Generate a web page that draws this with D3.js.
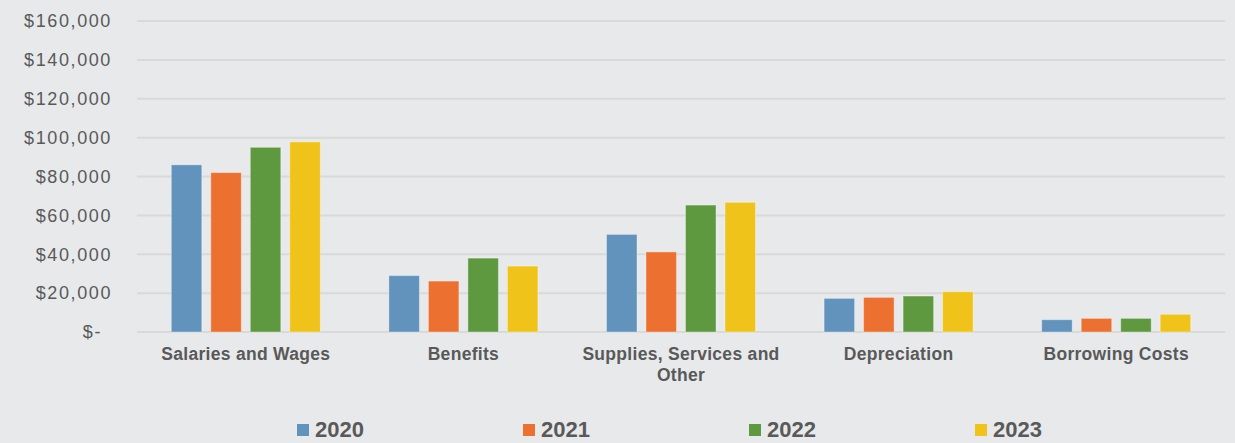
<!DOCTYPE html>
<html>
<head>
<meta charset="utf-8">
<script src="https://d3js.org/d3.v7.min.js"></script>
<style>
  html, body { margin: 0; padding: 0; background: #e8e9eb; }
  svg { display: block; }
  text { font-family: "Liberation Sans", Arial, sans-serif; fill: #595959; }
</style>
</head>
<body>
<div id="chart"></div>
<script>
// categories and yearly series (dollars)
const categories = ['Salaries and Wages', 'Benefits', 'Supplies, Services and Other', 'Depreciation', 'Borrowing Costs'];
const years = ['2020', '2021', '2022', '2023'];
const values2020 = [86000, 29000, 50200, 17300, 6300];
const values2021 = [82000, 26200, 41200, 17800, 7000];
const values2022 = [95000, 38000, 65300, 18500, 7000];
const values2023 = [97800, 33900, 66700, 20700, 9100];
const yTicks = [0, 20000, 40000, 60000, 80000, 100000, 120000, 140000, 160000];
const colors = ['#6193bc', '#ec7030', '#5e9940', '#efc319'];

const series = [values2020, values2021, values2022, values2023];

const fullW = 1235, fullH = 443;
const plot = { left: 137, right: 1225, top: 21, bottom: 332 };

const svg = d3.select('#chart').append('svg')
  .attr('width', fullW).attr('height', fullH);

svg.append('rect').attr('width', fullW).attr('height', fullH).attr('fill', '#e8e9eb');

const x0 = d3.scaleBand().domain(categories).range([plot.left, plot.right]);
const groupW = 149;
const x1 = d3.scaleBand().domain(years).range([0, groupW]).paddingInner(0.228);
const y = d3.scaleLinear().domain([0, 160000]).range([plot.bottom, plot.top]);

// grid lines
svg.append('g')
  .selectAll('line')
  .data(yTicks)
  .join('line')
  .attr('x1', plot.left).attr('x2', plot.right)
  .attr('y1', d => y(d)).attr('y2', d => y(d))
  .attr('stroke', '#d9d9d7').attr('stroke-width', 2);

// y axis labels
const fmt = d3.format(',');
svg.append('g')
  .selectAll('text')
  .data(yTicks)
  .join('text')
  .attr('x', d => d === 0 ? 102 : 112)
  .attr('y', d => y(d))
  .attr('dy', '0.35em')
  .attr('text-anchor', 'end')
  .style('font-size', '18px')
  .style('letter-spacing', '1.6px')
  .text(d => d === 0 ? '$-' : '$' + fmt(d));

// bars
const groups = svg.append('g')
  .selectAll('g')
  .data(categories)
  .join('g')
  .attr('transform', d => `translate(${x0(d) + (x0.bandwidth() - groupW) / 2},0)`);

groups.selectAll('rect')
  .data((c, i) => years.map((yr, j) => ({ yr, j, v: series[j][i] })))
  .join('rect')
  .attr('x', d => x1(d.yr))
  .attr('width', x1.bandwidth())
  .attr('y', d => y(d.v))
  .attr('height', d => y(0) - y(d.v))
  .attr('fill', d => colors[d.j])
  .attr('stroke', 'rgba(255,255,255,0.35)')
  .attr('stroke-width', 1);

// category labels (wrapped to band width)
const catLabels = svg.append('g')
  .selectAll('text')
  .data(categories)
  .join('text')
  .attr('x', d => x0(d) + x0.bandwidth() / 2)
  .attr('y', 360)
  .attr('text-anchor', 'middle')
  .style('font-size', '17.5px')
  .style('font-weight', 'bold')
  .style('letter-spacing', '0.3px');

catLabels.each(function(d) {
  const el = d3.select(this);
  const words = d.split(' ');
  const maxW = x0.bandwidth() - 8;
  let line = [];
  let lineNo = 0;
  let tspan = el.append('tspan').attr('x', el.attr('x')).attr('dy', 0);
  words.forEach(w => {
    line.push(w);
    tspan.text(line.join(' '));
    if (tspan.node().getComputedTextLength() > maxW && line.length > 1) {
      line.pop();
      tspan.text(line.join(' '));
      line = [w];
      lineNo++;
      tspan = el.append('tspan').attr('x', el.attr('x')).attr('dy', '20.5px').text(w);
    }
  });
});

// legend
const legendX = [297, 523, 749, 975];
const legend = svg.append('g')
  .selectAll('g')
  .data(years)
  .join('g')
  .attr('transform', (d, i) => `translate(${legendX[i]},424)`);

legend.append('rect')
  .attr('width', 12).attr('height', 12)
  .attr('fill', (d, i) => colors[i]);

legend.append('text')
  .attr('x', 18).attr('y', 12.5)
  .style('font-size', '22px')
  .style('font-weight', 'bold')
  .text(d => d);
</script>
</body>
</html>
